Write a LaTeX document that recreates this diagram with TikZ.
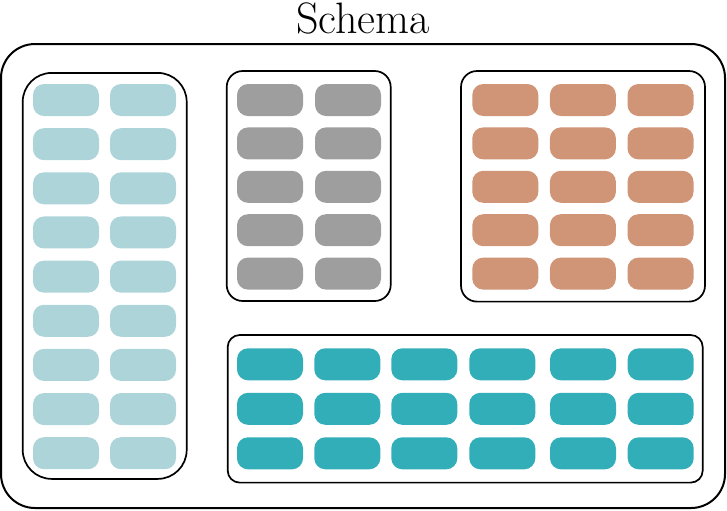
\documentclass[tikz,border=0pt]{standalone}
\definecolor{lblue}{RGB}{173,212,217}
\definecolor{dgray}{RGB}{158,158,158}
\definecolor{sand}{RGB}{208,148,118}
\definecolor{teal2}{RGB}{50,174,185}
\begin{document}
\begin{tikzpicture}[x=0.5pt,y=-0.5pt,
  pill/.style={rectangle, rounded corners=5.5pt, minimum width=33pt, minimum height=16pt, inner sep=0pt, draw=none},
  grp/.style={rectangle, draw=black, line width=0.85pt, inner sep=0pt},
  outer/.style={rectangle, draw=black, line width=1pt, rounded corners=17pt, inner sep=0pt, minimum width=362pt, minimum height=232pt}]
\useasboundingbox (0,0) rectangle (727,510);
\node[outer] (schema) at (363,276) {};
\node (title) at (363,18) {\fontsize{22}{26}\selectfont Schema};
% groups
\node[grp, rounded corners=14.5pt, minimum width=82pt, minimum height=203pt] (gblue) at (104.7,275.9) {};
\node[grp, rounded corners=8pt, minimum width=82pt, minimum height=115pt] (ggray) at (308.7,186) {};
\node[grp, rounded corners=8pt, minimum width=122pt, minimum height=115.3pt] (gsand) at (583,186.3) {};
\node[grp, rounded corners=6pt, minimum width=237.5pt, minimum height=73.8pt] (gteal) at (465.2,408.8) {};
% blue pills
\foreach \r in {0,...,8} {
  \foreach \c/\x in {0/66,1/143} {
    \node[pill, fill=lblue] (b\r\c) at (\x,{100+44.15*\r}) {};
  }
}
% gray pills
\foreach \r in {0,...,4} {
  \foreach \c/\x in {0/270,1/348} {
    \node[pill, fill=dgray] (g\r\c) at (\x,{100+43.4*\r}) {};
  }
}
% sand pills
\foreach \r in {0,...,4} {
  \foreach \c/\x in {0/505.3,1/582.9,2/660.5} {
    \node[pill, fill=sand] (s\r\c) at (\x,{100+43.4*\r}) {};
  }
}
% teal pills
\foreach \r in {0,...,2} {
  \foreach \c/\x in {0/270,1/347.3,2/424.3,3/502.3,4/583,5/660.7} {
    \node[pill, fill=teal2] (t\r\c) at (\x,{364.3+44.5*\r}) {};
  }
}
\end{tikzpicture}
\end{document}
